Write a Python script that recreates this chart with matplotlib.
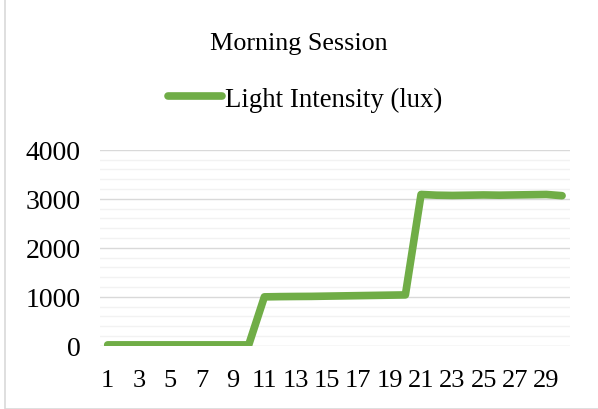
import matplotlib.pyplot as plt
from matplotlib.patches import Rectangle
from matplotlib.ticker import MultipleLocator

plt.rcParams['font.family'] = ['Liberation Serif', 'DejaVu Serif']

samples = list(range(1, 31))
lux = [20, 20, 20, 20, 20, 20, 20, 20, 20, 20,
       1000, 1005, 1008, 1010, 1015, 1020, 1025, 1030, 1035, 1040,
       3090, 3075, 3070, 3075, 3080, 3075, 3080, 3085, 3090, 3065]
tick_labels = [str(s) for s in samples[::2]]

green = '#70AD47'

fig = plt.figure(figsize=(5.98, 4.10), dpi=100)
ax = fig.add_axes([0.167, 0.154, 0.786, 0.478])

# chart border (top and right are cut off in the original)
fig.patches.append(Rectangle((5 / 598, 0.5 / 410), 1.2, 1.2, transform=fig.transFigure,
                             fill=False, edgecolor='#D9D9D9', linewidth=1.2))

ax.plot(samples, lux, color=green, linewidth=5.5, solid_capstyle='round',
        solid_joinstyle='round', label='Light Intensity (lux)', zorder=3)

ax.set_xlim(0.5, 30.5)
ax.set_ylim(0, 4000)
ax.set_xticks(samples[::2])
ax.set_xticklabels(tick_labels)
ax.yaxis.set_major_locator(MultipleLocator(1000))
ax.yaxis.set_minor_locator(MultipleLocator(200))
ax.grid(axis='y', which='major', color='#D9D9D9', linewidth=1)
ax.grid(axis='y', which='minor', color='#F2F2F2', linewidth=1)
ax.set_axisbelow(True)
for s in ax.spines.values():
    s.set_visible(False)
ax.tick_params(axis='both', which='both', length=0, labelsize=19)
ax.tick_params(axis='y', labelsize=20, pad=14)
ax.tick_params(axis='x', pad=17)

fig.text(0.5, 0.893, 'Morning Session', ha='center', va='center', fontsize=18.8)
fig.legend(loc='center', bbox_to_anchor=(0.51, 0.756), frameon=False, fontsize=19.3,
           handlelength=2.0, handletextpad=0.1)

fig.savefig('out.png', dpi=100)
